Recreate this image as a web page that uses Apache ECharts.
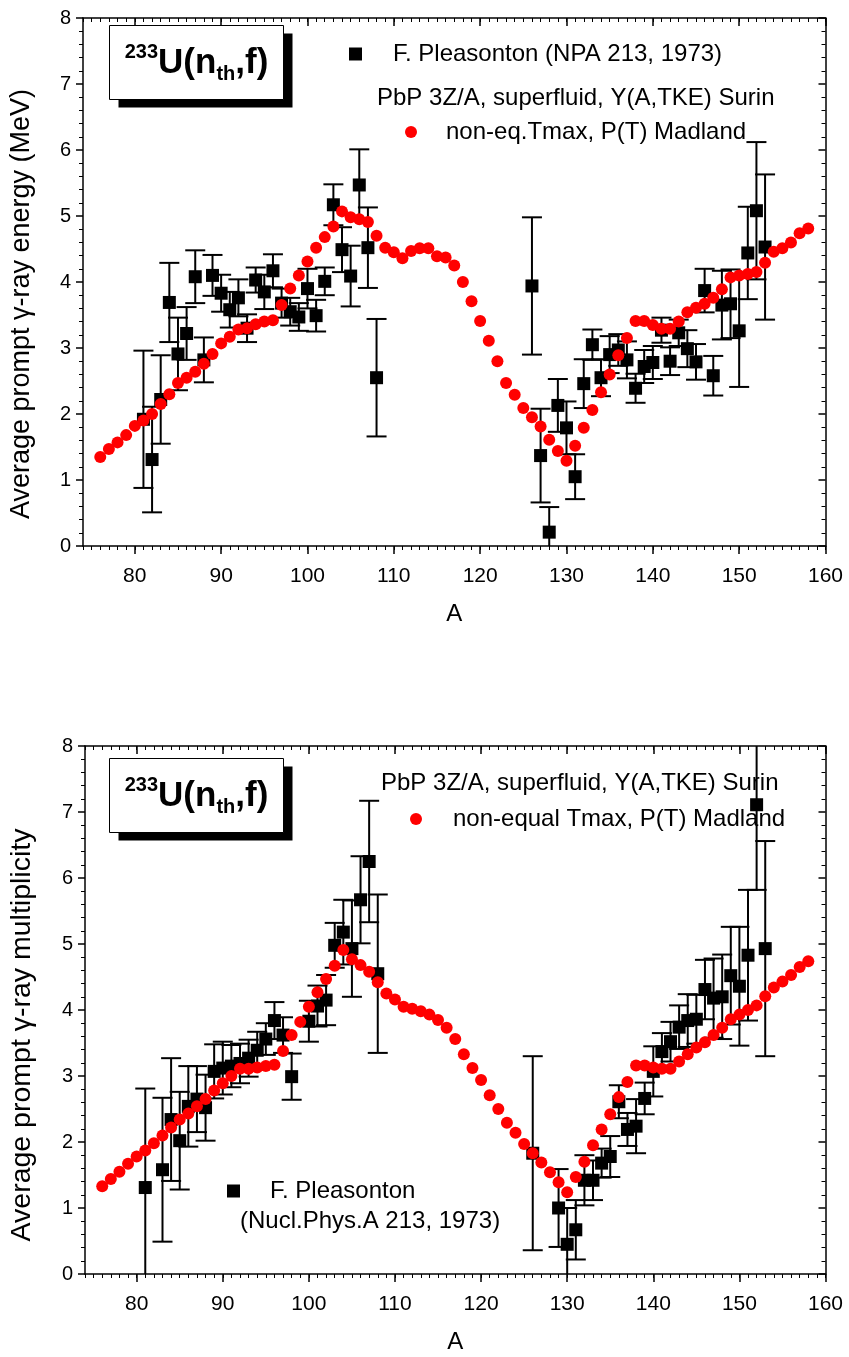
<!DOCTYPE html>
<html><head><meta charset="utf-8">
<script src="https://cdn.jsdelivr.net/npm/echarts@6/dist/echarts.min.js"></script>
<style>html,body{margin:0;padding:0;background:#fff}#c{width:849px;height:1357px}</style>
</head><body><div id="c"></div>
<script>
// ---------------- DATA ----------------
const modelA = [76,77,78,79,80,81,82,83,84,85,86,87,88,89,90,91,92,93,94,95,96,97,98,99,100,101,102,103,104,105,106,107,108,109,110,111,112,113,114,115,116,117,118,119,120,121,122,123,124,125,126,127,128,129,130,131,132,133,134,135,136,137,138,139,140,141,142,143,144,145,146,147,148,149,150,151,152,153,154,155,156,157,158];
const energyModel = [1.35,1.47,1.57,1.68,1.82,1.90,2.00,2.15,2.30,2.47,2.55,2.64,2.76,2.91,3.07,3.17,3.28,3.30,3.36,3.40,3.42,3.65,3.90,4.10,4.31,4.52,4.68,4.84,5.07,4.98,4.95,4.91,4.70,4.52,4.45,4.36,4.47,4.51,4.51,4.39,4.37,4.25,4.00,3.71,3.41,3.11,2.80,2.47,2.29,2.09,1.95,1.81,1.61,1.44,1.29,1.52,1.79,2.06,2.33,2.60,2.89,3.15,3.41,3.41,3.35,3.29,3.29,3.40,3.54,3.61,3.67,3.76,3.89,4.07,4.10,4.12,4.15,4.29,4.46,4.51,4.60,4.74,4.81];
const multModel = [1.33,1.44,1.55,1.67,1.78,1.87,1.98,2.10,2.22,2.34,2.43,2.54,2.65,2.78,2.89,3.00,3.11,3.11,3.13,3.15,3.17,3.38,3.62,3.82,4.05,4.27,4.47,4.67,4.91,4.77,4.68,4.58,4.42,4.25,4.16,4.05,4.02,3.98,3.93,3.85,3.73,3.56,3.33,3.12,2.94,2.71,2.50,2.29,2.14,1.97,1.83,1.69,1.54,1.39,1.24,1.47,1.70,1.95,2.19,2.42,2.68,2.91,3.16,3.16,3.13,3.11,3.11,3.22,3.33,3.43,3.51,3.62,3.73,3.86,3.93,4.00,4.07,4.21,4.34,4.43,4.53,4.65,4.74];

const energyExpA = [81,82,83,84,85,86,87,88,89,90,91,92,93,94,95,96,97,98,99,100,101,102,103,104,105,106,107,108,126,127,128,129,130,131,132,133,134,135,136,137,138,139,140,141,142,143,144,145,146,147,148,149,150,151,152,153];
const energyExp  = [1.92,1.31,2.22,3.69,2.91,3.22,4.08,2.82,4.10,3.83,3.58,3.76,3.30,4.03,3.85,4.17,3.68,3.55,3.47,3.90,3.49,4.01,5.17,4.49,4.09,5.47,4.52,2.55,3.94,1.37,0.21,2.13,1.79,1.05,2.46,3.05,2.55,2.90,2.97,2.82,2.39,2.72,2.78,3.27,2.80,3.23,2.99,2.79,3.87,2.58,3.65,3.67,3.26,4.44,5.08,4.53];
const energyErr  = [1.04,0.80,0.67,0.60,0.55,0.40,0.40,0.34,0.31,0.28,0.27,0.28,0.21,0.19,0.26,0.25,0.22,0.21,0.21,0.30,0.24,0.21,0.31,0.34,0.46,0.54,0.61,0.89,1.04,0.71,0.38,0.40,0.40,0.34,0.37,0.23,0.28,0.28,0.24,0.28,0.22,0.25,0.25,0.19,0.21,0.20,0.28,0.27,0.33,0.30,0.52,0.52,0.85,0.70,1.04,1.10];

const multExpA = [81,83,84,85,86,87,88,89,90,91,92,93,94,95,96,97,98,100,101,102,103,104,105,106,107,108,126,129,130,131,132,133,134,135,136,137,138,139,140,141,142,143,144,145,146,147,148,149,150,151,152,153];
const multExp  = [1.31,1.58,2.34,2.02,2.54,2.65,2.52,3.07,3.12,3.15,3.19,3.27,3.39,3.56,3.84,3.62,2.99,3.83,4.06,4.15,4.98,5.18,4.93,5.67,6.25,4.55,1.83,1.00,0.45,0.67,1.42,1.42,1.68,1.78,2.61,2.19,2.24,2.66,3.07,3.37,3.52,3.74,3.84,3.86,4.31,4.18,4.20,4.52,4.36,4.83,7.11,4.93];
const multErr  = [1.50,1.09,0.93,0.74,0.61,0.50,0.50,0.41,0.40,0.32,0.30,0.28,0.28,0.24,0.28,0.27,0.35,0.31,0.31,0.38,0.34,0.49,0.73,0.66,0.92,1.20,1.47,0.59,0.55,0.45,0.38,0.30,0.22,0.31,0.25,0.25,0.41,0.24,0.38,0.28,0.30,0.33,0.40,0.37,0.45,0.60,0.64,0.74,0.90,0.99,1.29,1.63];

const xMajorTicks = [80,90,100,110,120,130,140,150,160];
const yTicks = [0,1,2,3,4,5,6,7,8];

const nameExp1 = 'F. Pleasonton (NPA 213, 1973)';
const nameMod1 = 'non-eq.Tmax, P(T) Madland';
const nameExp2 = 'F. Pleasonton (Nucl.Phys.A 213, 1973)';
const nameMod2 = 'non-equal Tmax, P(T) Madland';
const calcLine = 'PbP 3Z/A, superfluid, Y(A,TKE) Surin';
const yTitle1 = 'Average prompt \u03b3-ray energy (MeV)';
const yTitle2 = 'Average prompt \u03b3-ray multiplicity';

// ---------------- BUILD ----------------
const FONT = 'Liberation Sans, Arial, sans-serif';
const grids = [
  {left: 83, top: 18, width: 742.5, height: 528},
  {left: 83, top: 746, width: 742.5, height: 528}
];
const yTitleStyle = [
  {fontFamily: FONT, fontSize: 27, color: '#000', padding: [0, 44, 0, 0]},
  {fontFamily: FONT, fontSize: 28.5, color: '#000', padding: [0, 50, 0, 0]}
];
const xAxes = [], yAxes = [];
grids.forEach((g, i) => {
  xAxes.push({gridIndex: i, type: 'value', position: 'bottom', min: 74, max: 160, interval: 1,
    axisLine: {show: true, onZero: false, lineStyle: {color: '#000', width: 1.5}},
    axisTick: {show: true, inside: false, length: 4, lineStyle: {color: '#000', width: 1}},
    axisLabel: {show: true, margin: 20, fontFamily: FONT, fontSize: 21, color: '#000',
      formatter: v => (xMajorTicks.indexOf(v) >= 0 ? String(v) : '')},
    splitLine: {show: false},
    name: 'A', nameLocation: 'middle', nameGap: 56, nameTextStyle: {fontFamily: FONT, fontSize: 24, color: '#000'}});
  xAxes.push({gridIndex: i, type: 'value', position: 'bottom', min: 74, max: 160,
    axisLine: {show: false, onZero: false}, axisLabel: {show: false}, splitLine: {show: false},
    axisTick: {show: true, inside: false, length: 8, customValues: xMajorTicks, lineStyle: {color: '#000', width: 1.5}}});
  xAxes.push({gridIndex: i, type: 'value', position: 'top', min: 74, max: 160, interval: 1,
    axisLine: {show: true, onZero: false, lineStyle: {color: '#000', width: 1.5}},
    axisTick: {show: true, inside: true, length: 4, lineStyle: {color: '#000', width: 1}},
    axisLabel: {show: false}, splitLine: {show: false}});
  xAxes.push({gridIndex: i, type: 'value', position: 'top', min: 74, max: 160,
    axisLine: {show: false, onZero: false}, axisLabel: {show: false}, splitLine: {show: false},
    axisTick: {show: true, inside: true, length: 8, customValues: xMajorTicks, lineStyle: {color: '#000', width: 1.5}}});

  yAxes.push({gridIndex: i, type: 'value', position: 'left', min: 0, max: 8, interval: 1,
    axisLine: {show: true, onZero: false, lineStyle: {color: '#000', width: 1.5}},
    axisTick: {show: true, inside: false, length: 7, lineStyle: {color: '#000', width: 1.5}},
    minorTick: {show: true, splitNumber: 5, length: 4, lineStyle: {color: '#000', width: 1}},
    axisLabel: {show: true, margin: 12, fontFamily: FONT, fontSize: 20, color: '#000'},
    splitLine: {show: false}, minorSplitLine: {show: false},
    name: i === 0 ? yTitle1 : yTitle2, nameLocation: 'middle', nameGap: 48, nameRotate: 90,
    nameTextStyle: yTitleStyle[i]});
  yAxes.push({gridIndex: i, type: 'value', position: 'right', min: 0, max: 8, interval: 1,
    axisLine: {show: true, onZero: false, lineStyle: {color: '#000', width: 1.5}},
    axisTick: {show: true, inside: true, length: 7, lineStyle: {color: '#000', width: 1.5}},
    minorTick: {show: true, splitNumber: 5, length: 4, lineStyle: {color: '#000', width: 1}},
    axisLabel: {show: false}, splitLine: {show: false}, minorSplitLine: {show: false}});
});

function errSeries(gi, xs, ys, es) {
  return {
    type: 'custom', xAxisIndex: gi * 4, yAxisIndex: gi * 2, clip: true, silent: true, z: 2,
    data: xs.map((a, k) => [a, ys[k], es[k]]),
    encode: {x: 0, y: 1},
    renderItem: (params, api) => {
      const a = api.value(0), v = api.value(1), e = api.value(2);
      const hi = api.coord([a, v + e]), lo = api.coord([a, v - e]);
      const hw = 10;
      const st = {stroke: '#000', lineWidth: 2};
      return {type: 'group', children: [
        {type: 'line', shape: {x1: hi[0], y1: hi[1], x2: lo[0], y2: lo[1]}, style: st},
        {type: 'line', shape: {x1: hi[0] - hw, y1: hi[1], x2: hi[0] + hw, y2: hi[1]}, style: st},
        {type: 'line', shape: {x1: lo[0] - hw, y1: lo[1], x2: lo[0] + hw, y2: lo[1]}, style: st}
      ]};
    }
  };
}
function expSeries(gi, name, xs, ys) {
  return {type: 'scatter', name: name, xAxisIndex: gi * 4, yAxisIndex: gi * 2, z: 3,
    symbol: 'rect', symbolSize: 13, itemStyle: {color: '#000', opacity: 1},
    data: xs.map((a, k) => [a, ys[k]])};
}
function modSeries(gi, name, ys) {
  return {type: 'scatter', name: name, xAxisIndex: gi * 4, yAxisIndex: gi * 2, z: 4,
    symbol: 'circle', symbolSize: 12, itemStyle: {color: '#ff0000', opacity: 1},
    data: modelA.map((a, k) => [a, ys[k]])};
}

function labelBox(top) {
  return {type: 'group', left: 109, top: top, children: [
    {type: 'rect', shape: {x: 9, y: 8, width: 174, height: 74}, style: {fill: '#000'}},
    {type: 'rect', shape: {x: 0, y: 0, width: 174, height: 74}, style: {fill: '#fff', stroke: '#000', lineWidth: 1}},
    {type: 'text', x: 87, y: 38, style: {
      text: '{sup|233}{big|U(n}{sub|th}{big|,f)}', align: 'center', verticalAlign: 'middle',
      rich: {
        sup: {fontFamily: FONT, fontWeight: 'bold', fontSize: 20, verticalAlign: 'top', padding: [0, 0, 20, 0]},
        big: {fontFamily: FONT, fontWeight: 'bold', fontSize: 35},
        sub: {fontFamily: FONT, fontWeight: 'bold', fontSize: 20, padding: [22, 0, 0, 0]}
      }}}
  ]};
}

const legTS = {fontFamily: FONT, fontSize: 24, color: '#000'};
const option = {
  animation: false,
  backgroundColor: '#fff',
  grid: grids,
  xAxis: xAxes,
  yAxis: yAxes,
  legend: [
    {left: 344, top: 37, orient: 'vertical', itemWidth: 13, itemHeight: 13, data: [nameExp1],
      textStyle: Object.assign({padding: [0, 0, 0, 26]}, legTS), selectedMode: false},
    {left: 400, top: 115, orient: 'vertical', itemWidth: 12, itemHeight: 12, data: [nameMod1],
      textStyle: Object.assign({padding: [0, 0, 0, 24]}, legTS), selectedMode: false},
    {left: 405, top: 802, orient: 'vertical', itemWidth: 12, itemHeight: 12, data: [nameMod2],
      textStyle: Object.assign({padding: [0, 0, 0, 26]}, legTS), selectedMode: false},
    {left: 222, top: 1174, orient: 'vertical', itemWidth: 13, itemHeight: 13, data: [nameExp2],
      formatter: () => 'F. Pleasonton',
      textStyle: Object.assign({padding: [0, 0, 0, 25]}, legTS), selectedMode: false}
  ],
  graphic: [
    labelBox(25),
    labelBox(758),
    {type: 'text', left: 377, top: 86, style: {text: calcLine, fontFamily: FONT, fontSize: 24, fill: '#000'}},
    {type: 'text', left: 381, top: 771, style: {text: calcLine, fontFamily: FONT, fontSize: 24, fill: '#000'}},
    {type: 'text', left: 240, top: 1209, style: {text: '(Nucl.Phys.A 213, 1973)', fontFamily: FONT, fontSize: 24, fill: '#000'}}
  ],
  series: [
    errSeries(0, energyExpA, energyExp, energyErr),
    expSeries(0, nameExp1, energyExpA, energyExp),
    modSeries(0, nameMod1, energyModel),
    errSeries(1, multExpA, multExp, multErr),
    expSeries(1, nameExp2, multExpA, multExp),
    modSeries(1, nameMod2, multModel)
  ]
};
const chart = echarts.init(document.getElementById('c'), null, {renderer: 'canvas'});
chart.setOption(option);
</script></body></html>
